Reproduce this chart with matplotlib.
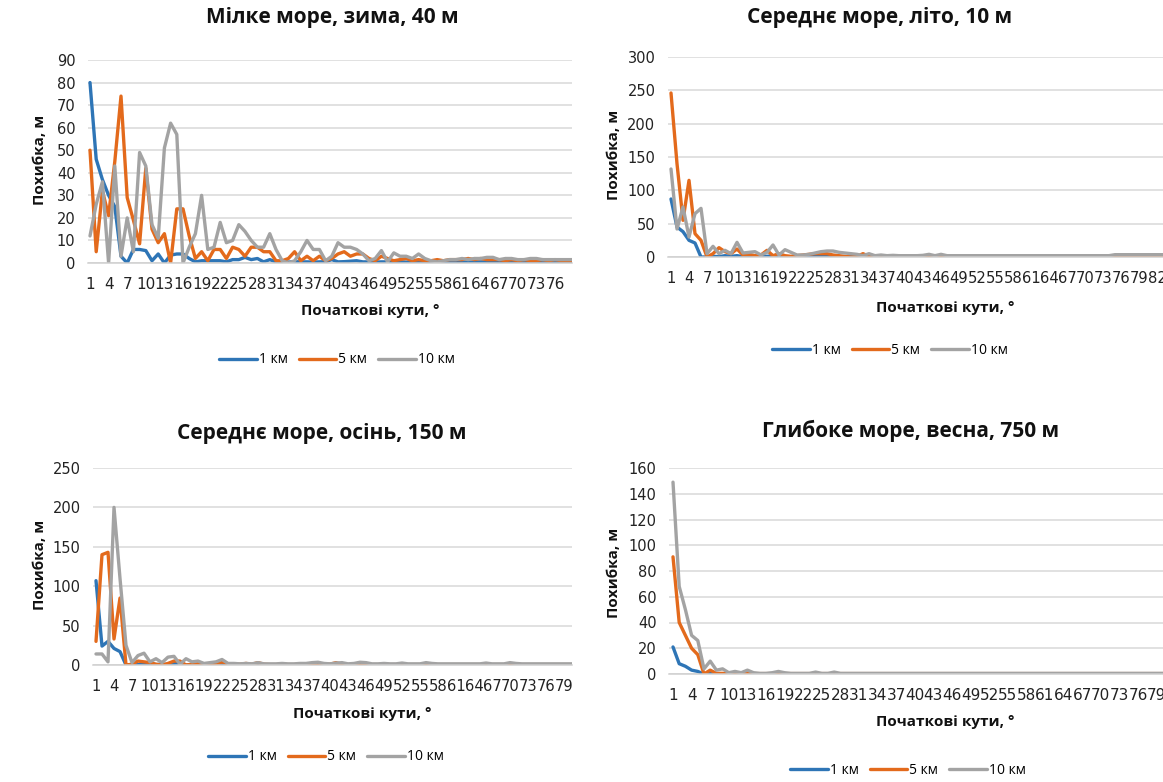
import matplotlib
matplotlib.use('Agg')
import matplotlib.pyplot as plt
import numpy as np

plt.rcParams['font.family'] = ['Open Sans', 'DejaVu Sans']

# початкові кути, градуси (категорії осі X)
angles = np.arange(1, 86)
tick_angles = np.arange(1, 86, 3)
series_names = ['1 км', '5 км', '10 км']
colors = ['#2E75B6', '#E36A1C', '#A3A3A3']

# Мілке море, зима, 40 м
blue_1 = [80, 46, 37, 30, 25, 3, 0, 6, 6, 5.5,
          1, 4, 0, 3.5, 4, 4, 2, 0.5, 1, 1,
          1, 1, 0.5, 1.5, 1.5, 2.5, 1.5, 2, 0.5, 1.5,
          0.5, 0.5, 0.4, 0.6, 0.5, 0.5, 0.4, 0.5, 0.6, 1.5,
          0.5, 0.6, 0.8, 1, 0.5, 0.5, 0.4, 0.5, 0.5, 0.4,
          0.5, 0.4, 0.5, 0.4, 0.4, 0.5, 0.4, 0.4, 0.5, 0.4,
          0.5, 0.5, 0.4, 0.5, 0.4, 0.4, 0.5, 0.4, 0.4, 0.5,
          0.4, 0.4, 0.5, 0.4, 0.4, 0.4, 0.5, 0.4, 0.4, 0.4,
          0.4, 0.4, 0.4, 0.4, 0.4]
orange_1 = [50, 5, 32, 21, 45, 74, 29, 19, 8.5, 42,
            15, 9, 13, 0, 24, 24, 12, 2, 5, 1,
            6, 6, 2, 7, 6, 3, 7, 7, 5, 5,
            1, 1, 2, 5, 1, 3, 1, 3, 1, 2,
            4, 5, 3, 4, 4, 2, 1, 3, 2, 1,
            1.5, 2, 1, 1.5, 1, 1, 1.5, 1, 1.5, 1.5,
            1.5, 2, 1.5, 2, 1.5, 1.5, 1.5, 1, 1.5, 1,
            1.5, 1, 1, 1.5, 1, 1.5, 1, 1, 1, 1,
            1, 1, 1, 1, 1]
gray_1 = [12, 26, 36, 0, 43, 3, 20, 5, 49, 43,
          17, 11, 51, 62, 57, 0, 7, 13, 30, 6,
          7, 18, 9, 10, 17, 14, 10, 7, 7, 13,
          6, 1, 0, 1, 5, 10, 6, 6, 1, 3,
          9, 7, 7, 6, 4, 1, 2, 5.5, 0.5, 4.5,
          3, 3, 2, 4, 2, 1, 0.5, 1, 1.5, 1.5,
          2, 1.5, 2, 2, 2.5, 2.5, 1.5, 2, 2, 1.5,
          1.5, 2, 2, 1.5, 1.5, 1.5, 1.5, 1.5, 1.5, 1.5,
          1.5, 1.5, 1.5, 1.5, 1.5]

# Середнє море, літо, 10 м
blue_2 = [87, 45, 38, 25, 21, 0, 0, 1, 0.5, 2,
          1, 2, 0.5, 1, 0.5, 1, 1, 2, 0.5, 0.5,
          0.5, 1, 0.5, 0.5, 1, 0.5, 0.5, 0.5, 0.5, 0.5,
          0.5, 0.5, 0.4, 0.5, 0.5, 0.4, 0.5, 0.5, 0.4, 0.5,
          0.5, 0.4, 0.5, 0.5, 0.4, 0.5, 0.5, 0.4, 0.5, 0.5,
          0.4, 0.5, 0.5, 0.4, 0.5, 0.5, 0.4, 0.5, 0.5, 0.4,
          0.5, 0.5, 0.4, 0.5, 0.5, 0.4, 0.5, 0.5, 0.4, 0.5,
          0.5, 0.4, 0.5, 0.5, 0.4, 0.5, 0.5, 0.4, 0.5, 0.5,
          0.4, 0.5, 0.5, 0.4, 0.5]
orange_2 = [246, 140, 55, 115, 35, 25, 0, 5, 14, 8,
            5, 12, 3, 4, 2, 3, 10, 2, 5, 2,
            1, 2, 3, 4, 5, 5, 5, 3, 2, 1,
            0, 1, 5, 1, 0.5, 0.5, 1, 0.5, 0.5, 0.5,
            0.5, 0.5, 0.5, 1, 0.5, 0.5, 0.5, 0.5, 0.5, 0.5,
            0.5, 0.5, 0.5, 0.5, 0.5, 0.5, 0.5, 0.5, 0.5, 0.5,
            0.5, 0.5, 0.5, 0.5, 0.5, 0.5, 0.5, 0.5, 0.5, 0.5,
            0.5, 0.5, 0.5, 0.5, 0.5, 0.5, 0.5, 0.5, 0.5, 0.5,
            0.5, 0.5, 0.5, 0.5, 0.5]
gray_2 = [132, 42, 75, 30, 65, 73, 5, 16, 5, 10,
          5, 22, 6, 7, 8, 3, 7, 18, 3, 11,
          7, 3, 3, 4, 6, 8, 9, 9, 7, 6,
          5, 4, 2, 5, 2, 3, 2, 2.5, 2, 2,
          2, 2, 2.5, 4, 2, 4, 2, 2, 2, 2,
          2, 2, 2, 2, 2, 2, 2, 2, 2, 2,
          2, 2, 2, 2, 2, 2, 2, 2, 2, 2,
          2, 2, 2, 2, 3.5, 3.5, 3.5, 3.5, 3.5, 3.5,
          3.5, 3.5, 3.5, 3.5, 3.5]

# Середнє море, осінь, 150 м
blue_3 = [107, 24, 30, 21, 17, 0, 0, 0.5, 1, 2,
          0.5, 1, 0.5, 2, 1, 0, 0.5, 0.5, 0.3, 0.3,
          0.3, 0.3, 0.3, 0.3, 0.3, 0.3, 0.3, 0.3, 0.3, 0.3,
          0.3, 0.3, 0.3, 0.3, 0.3, 0.3, 0.3, 0.3, 0.3, 0.3,
          0.3, 0.3, 0.3, 0.3, 0.3, 0.3, 0.3, 0.3, 0.3, 0.3,
          0.3, 0.3, 0.3, 0.3, 0.3, 0.3, 0.3, 0.3, 0.3, 0.3,
          0.3, 0.3, 0.3, 0.3, 0.3, 0.3, 0.3, 0.3, 0.3, 0.3,
          0.3, 0.3, 0.3, 0.3, 0.3, 0.3, 0.3, 0.3, 0.3, 0.3,
          0.3, 0.3, 0.3, 0.3, 0.3]
orange_3 = [30, 140, 143, 33, 85, 0, 1, 5, 4, 3,
            1, 0, 2, 5, 5, 0, 1, 2, 1, 0.5,
            1, 4, 1, 0.5, 1, 2, 1, 3, 1, 0.5,
            0.5, 1, 0.5, 0.5, 1, 0.5, 0.5, 1, 0.5, 1,
            3, 0.5, 0.5, 0.5, 1, 0.5, 0.5, 0.5, 0.5, 0.5,
            0.5, 0.5, 0.5, 0.5, 0.5, 0.5, 0.5, 0.5, 0.5, 0.5,
            0.5, 0.5, 0.5, 0.5, 0.5, 0.5, 0.5, 0.5, 0.5, 0.5,
            0.5, 0.5, 0.5, 0.5, 0.5, 0.5, 0.5, 0.5, 0.5, 0.5,
            0.5, 0.5, 0.5, 0.5, 0.5]
gray_3 = [14, 14, 4, 200, 110, 25, 3, 12, 15, 4,
          8, 3, 10, 11, 1, 8, 4, 5, 2, 3,
          4, 7, 2, 2, 1.5, 2, 1.5, 3, 1.5, 1.5,
          1.5, 2, 1.5, 1.5, 2, 2, 3, 3.5, 2, 1.5,
          2.5, 3, 1.5, 2, 3.5, 3, 1.5, 1.5, 2, 1.5,
          1.5, 2.5, 1.5, 1.5, 1.5, 3, 2, 1.5, 1.5, 1.5,
          1.5, 1.5, 1.5, 1.5, 1.5, 2.5, 1.5, 1.5, 1.5, 3,
          2, 1.5, 1.5, 1.5, 1.5, 1.5, 1.5, 1.5, 1.5, 1.5,
          1.5, 1.5, 1.5, 1.5, 1.5]

# Глибоке море, весна, 750 м
blue_4 = [21, 8, 6, 3, 2, 0, 0.3, 0, 0.2, 0.2,
          0.2, 0.2, 0.2, 0.2, 0.2, 0.2, 0.2, 0.2, 0.2, 0.2,
          0.2, 0.2, 0.2, 0.2, 0.2, 0.2, 0.2, 0.2, 0.2, 0.2,
          0.2, 0.2, 0.2, 0.2, 0.2, 0.2, 0.2, 0.2, 0.2, 0.2,
          0.2, 0.2, 0.2, 0.2, 0.2, 0.2, 0.2, 0.2, 0.2, 0.2,
          0.2, 0.2, 0.2, 0.2, 0.2, 0.2, 0.2, 0.2, 0.2, 0.2,
          0.2, 0.2, 0.2, 0.2, 0.2, 0.2, 0.2, 0.2, 0.2, 0.2,
          0.2, 0.2, 0.2, 0.2, 0.2, 0.2, 0.2, 0.2, 0.2, 0.2,
          0.2, 0.2, 0.2, 0.2, 0.2]
orange_4 = [91, 40, 30, 20, 15, 0, 3, 0.5, 0.5, 0,
            0.5, 0, 0.5, 0.3, 0.3, 0.3, 0.3, 0.3, 0.3, 0.3,
            0.3, 0.3, 0.3, 0.3, 0.3, 0.3, 0.3, 0.3, 0.3, 0.3,
            0.3, 0.3, 0.3, 0.3, 0.3, 0.3, 0.3, 0.3, 0.3, 0.3,
            0.3, 0.3, 0.3, 0.3, 0.3, 0.3, 0.3, 0.3, 0.3, 0.3,
            0.3, 0.3, 0.3, 0.3, 0.3, 0.3, 0.3, 0.3, 0.3, 0.3,
            0.3, 0.3, 0.3, 0.3, 0.3, 0.3, 0.3, 0.3, 0.3, 0.3,
            0.3, 0.3, 0.3, 0.3, 0.3, 0.3, 0.3, 0.3, 0.3, 0.3,
            0.3, 0.3, 0.3, 0.3, 0.3]
gray_4 = [149, 68, 50, 30, 26, 4, 10, 3, 4, 1,
          2, 1, 3, 1, 0.5, 0.5, 1, 2, 1, 0.5,
          0.5, 0.5, 0.5, 1.5, 0.5, 0.5, 1.5, 0.5, 0.5, 0.5,
          0.5, 0.5, 0.5, 0.5, 0.5, 0.5, 0.5, 0.5, 0.5, 0.5,
          0.5, 0.5, 0.5, 0.5, 0.5, 0.5, 0.5, 0.5, 0.5, 0.5,
          0.5, 0.5, 0.5, 0.5, 0.5, 0.5, 0.5, 0.5, 0.5, 0.5,
          0.5, 0.5, 0.5, 0.5, 0.5, 0.5, 0.5, 0.5, 0.5, 0.5,
          0.5, 0.5, 0.5, 0.5, 0.5, 0.5, 0.5, 0.5, 0.5, 0.5,
          0.5, 0.5, 0.5, 0.5, 0.5]

W, H = 1163, 782
fig = plt.figure(figsize=(W / 100, H / 100), dpi=100)
fig.patch.set_facecolor('white')


def fx(x):
    return x / W


def fy(y):
    return 1 - y / H


panels = [
    dict(title='Мілке море, зима, 40 м', data=(blue_1, orange_1, gray_1),
         box=(88, 60, 572, 263), first=90, pc=6.2, ymax=90, ystep=10,
         title_at=(332, 18), ylab_at=(40, 160), xlab_at=(370, 311), leg_at=(337, 360)),
    dict(title='Середнє море, літо, 10 м', data=(blue_2, orange_2, gray_2),
         box=(668, 57, 1163, 257), first=671, pc=6.0, ymax=300, ystep=50,
         title_at=(880, 18), ylab_at=(614, 155), xlab_at=(945, 308), leg_at=(890, 350)),
    dict(title='Середнє море, осінь, 150 м', data=(blue_3, orange_3, gray_3),
         box=(93, 468, 572, 665), first=96, pc=6.0, ymax=250, ystep=50,
         title_at=(322, 433), ylab_at=(40, 565), xlab_at=(362, 714), leg_at=(326, 757)),
    dict(title='Глибоке море, весна, 750 м', data=(blue_4, orange_4, gray_4),
         box=(669, 468, 1163, 674), first=673, pc=6.2, ymax=160, ystep=20,
         title_at=(911, 431), ylab_at=(614, 573), xlab_at=(945, 722), leg_at=(908, 770)),
]

for p in panels:
    l, t, r, b = p['box']
    ax = fig.add_axes([fx(l), fy(b), (r - l) / W, (b - t) / H])
    handles = []
    for vals, c, name in zip(p['data'], colors, series_names):
        h, = ax.plot(angles[:len(vals)], vals, color=c, lw=2.4, label=name,
                     solid_joinstyle='round', solid_capstyle='round')
        handles.append(h)
    ax.set_yticks(np.arange(0, p['ymax'] + 1, p['ystep']))
    ax.set_xticks(tick_angles)
    # labels every 3rd angle, crammed together like in the source
    tick_size = 11 if p['pc'] > 6.1 else 10.6
    ax.set_xticklabels([str(a) for a in tick_angles], family='DejaVu Sans', fontsize=tick_size)
    # the source chart is cropped on the right, so the category axis runs past the edge
    ax.set_xlim(1 - (p['first'] - l) / p['pc'], 1 + (r - p['first']) / p['pc'])
    ax.set_ylim(0, p['ymax'])
    for lab in ax.get_yticklabels():
        lab.set_family('DejaVu Sans')
        lab.set_fontsize(10.5)
    ax.tick_params(axis='x', length=0, pad=10, colors='#222222')
    ax.tick_params(axis='y', length=0, pad=9, colors='#222222')
    ax.grid(axis='y', color='#D9D9D9', lw=1.1)
    ax.set_axisbelow(True)
    for s in ['top', 'right', 'left']:
        ax.spines[s].set_visible(False)
    ax.spines['bottom'].set_color('#D0D0D0')
    ax.spines['bottom'].set_linewidth(1.1)

    fig.text(fx(p['title_at'][0]), fy(p['title_at'][1]), p['title'], ha='center', va='center',
             fontsize=15, fontweight='bold', color='#111111')
    fig.text(fx(p['ylab_at'][0]), fy(p['ylab_at'][1]), 'Похибка, м', ha='center', va='center',
             rotation=90, fontsize=11, fontweight='bold', color='#111111')
    fig.text(fx(p['xlab_at'][0]), fy(p['xlab_at'][1]), 'Початкові кути, °', ha='center', va='center',
             fontsize=11, fontweight='bold', color='#111111')
    fig.legend(handles, series_names, loc='center', bbox_to_anchor=(fx(p['leg_at'][0]), fy(p['leg_at'][1])),
               ncol=3, frameon=False, handlelength=2.7, handletextpad=0.15, columnspacing=0.8,
               fontsize=10)

fig.savefig('out.png', dpi=100, facecolor='white')
